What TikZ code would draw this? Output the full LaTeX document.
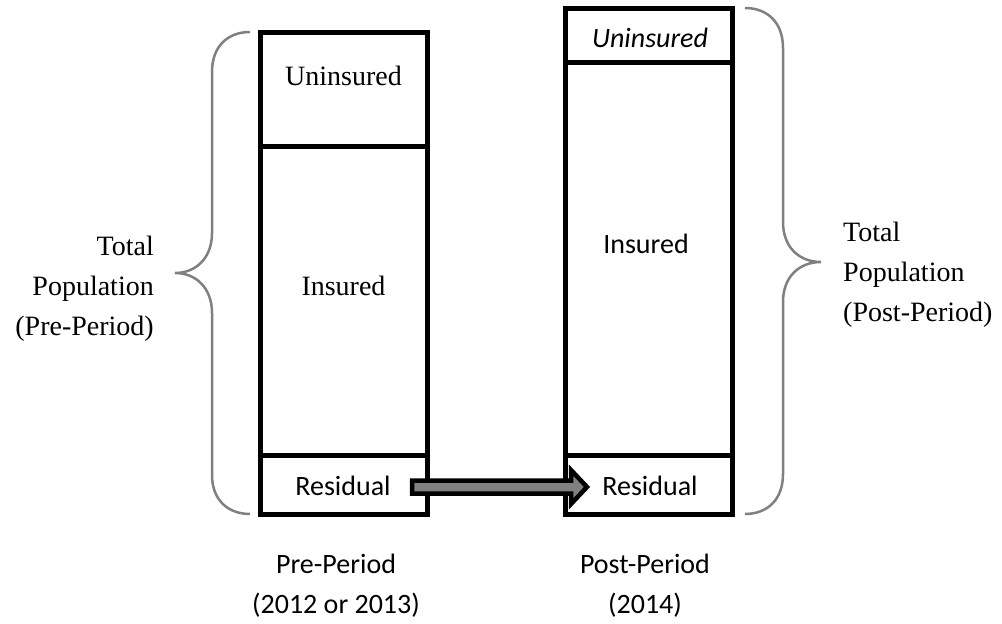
\documentclass[tikz,border=0pt]{standalone}
\usepackage{fontspec}
\setmainfont{Liberation Serif}
\newfontfamily\calfont{Carlito}
\usetikzlibrary{calc}
\definecolor{bracegray}{RGB}{128,128,128}
\definecolor{arrowgray}{RGB}{128,128,128}
\tikzset{
  sect/.style={draw=black, line width=5pt, inner sep=0pt, minimum width=167pt, line join=miter},
  serif/.style={font=\fontsize{28}{34}\selectfont, inner sep=0pt},
  sans/.style={font=\calfont\fontsize{28}{34}\selectfont, inner sep=0pt},
  sansit/.style={font=\calfont\itshape\fontsize{28}{34}\selectfont, inner sep=0pt},
  brace/.style={draw=bracegray, line width=2.5pt},
  blockarrow/.style={draw=black, fill=arrowgray, line width=4.5pt, line join=miter},
}
\begin{document}
\begin{tikzpicture}[x=1pt,y=-1pt]
\useasboundingbox (0,0) rectangle (1002,624);

% left column (pre-period)
\node[sect, minimum height=114pt] (lu) at (343.5,89) {};
\node[sect, minimum height=309pt] (li) at (343.5,300.5) {};
\node[sect, minimum height=59pt]  (lr) at (343.5,484.5) {};
\node[serif, anchor=base] (lut) at (343.5,85) {Uninsured};
\node[serif, anchor=base] (lit) at (343.5,295) {Insured};
\node[sans, anchor=base] (lrt) at (343,495) {Residual};

% right column (post-period)
\node[sect, minimum height=54pt]  (ru) at (648.5,35) {};
\node[sect, minimum height=393pt] (ri) at (648.5,258.5) {};
\node[sect, minimum height=59pt]  (rr) at (648.5,484.5) {};
\node[sansit, anchor=base] (rut) at (650,47) {Uninsured};
\node[sans, anchor=base] (rit) at (646,253) {Insured};
\node[sans, anchor=base] (rrt) at (650,495) {Residual};

% braces
\draw[brace] (250,32) .. controls (228,32) and (212,46) .. (212,72) -- (212,233)
  .. controls (212,258) and (196,273) .. (175,273)
  .. controls (196,273) and (212,288) .. (212,313) -- (212,475)
  .. controls (212,500) and (228,514) .. (250,514);
\draw[brace] (745,8) .. controls (767,8) and (783,22) .. (783,48) -- (783,222)
  .. controls (783,247) and (799,262) .. (821,262)
  .. controls (799,262) and (783,277) .. (783,302) -- (783,474)
  .. controls (783,500) and (767,514) .. (745,514);

% side labels
\node[serif, anchor=base east] (lt1) at (154,255) {Total};
\node[serif, anchor=base east] (lt2) at (154,295) {Population};
\node[serif, anchor=base east] (lt3) at (154,335) {(Pre-Period)};
\node[serif, anchor=base west] (rt1) at (843,241) {Total};
\node[serif, anchor=base west] (rt2) at (843,281) {Population};
\node[serif, anchor=base west] (rt3) at (843,321) {(Post-Period)};

% bottom labels
\node[sans, anchor=base] (lb1) at (336,573) {Pre-Period};
\node[sans, anchor=base] (lb2) at (336,613) {(2012 or 2013)};
\node[sans, anchor=base] (rb1) at (645,573) {Post-Period};
\node[sans, anchor=base] (rb2) at (645,613) {(2014)};

% block arrow from residual to residual
\coordinate (as) at (412,487);
\coordinate (ae) at (587,487);
\draw[blockarrow] ($(as)+(0,-6.5)$) -- ($(ae)+(-16,-6.5)$) -- ($(ae)+(-16,-17)$) -- (ae)
  -- ($(ae)+(-16,17)$) -- ($(ae)+(-16,6.5)$) -- ($(as)+(0,6.5)$) -- cycle;
\end{tikzpicture}
\end{document}
